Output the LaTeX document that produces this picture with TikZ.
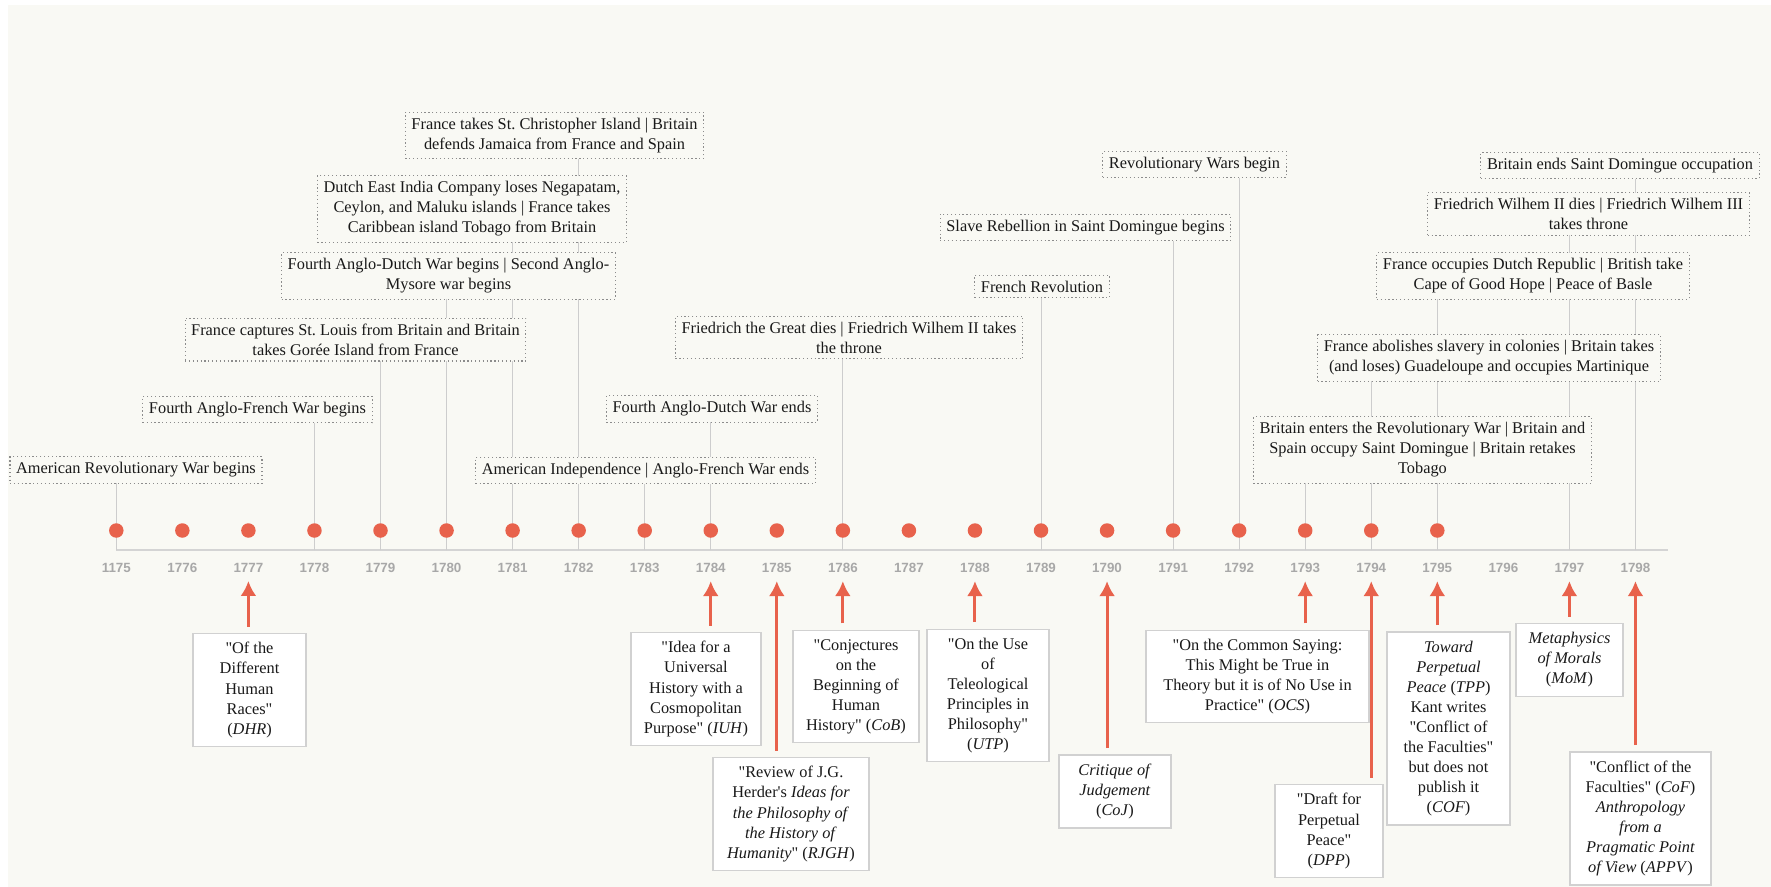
\documentclass[tikz,border=0pt]{standalone}
\usepackage{fontspec}
\setmainfont{Liberation Serif}[Ligatures=TeXOff]
\setsansfont{Liberation Sans}
\usetikzlibrary{arrows.meta}
\definecolor{paper}{RGB}{249,249,244}
\definecolor{coral}{RGB}{232,98,76}
\definecolor{stemgray}{RGB}{205,205,205}
\definecolor{labgray}{RGB}{168,168,168}
\pgfdeclarelayer{paperlayer}
\pgfdeclarelayer{behind}
\pgfsetlayers{paperlayer,behind,main}
\tikzset{%
    event/.style={inner xsep=3.5pt,inner ysep=3.2pt,outer sep=0pt,shape=rectangle,draw=black!45,dash pattern=on 0.7pt off 1.5pt,line width=0.6pt,fill=paper,align=center,font=\fontsize{9.3}{11.4}\selectfont,text=black!90},
    work/.style={inner xsep=3pt,inner ysep=5pt,outer sep=0pt,shape=rectangle,draw=black!18,line width=0.8pt,fill=white,align=center,font=\fontsize{9.3}{11.4}\selectfont,text=black!90},
    stem/.style={draw=stemgray,line width=0.5pt},
    dot/.style={circle,fill=coral,inner sep=0pt,minimum size=2.9mm},
    yearlab/.style={inner sep=0pt,font=\sffamily\bfseries\fontsize{7.6}{8}\selectfont,text=labgray},
    kant/.style={-{Latex[length=3mm,width=3.2mm]},draw=coral,line width=1.7pt,shorten <=1.4mm,shorten >=1.6mm},
}

\begin{document}
\begin{tikzpicture}[x=0.2mm,y=-0.2mm]
        \useasboundingbox (0,0) rectangle (1771,887);
        \begin{pgfonlayer}{paperlayer}
            \fill[paper] (8,5) rectangle (1771,887);
        \end{pgfonlayer}

        % axis, years and dots
        \foreach \yr in {1775,...,1798}{
            \pgfmathsetmacro\xx{116.3+(\yr-1775)*66.05}
            \coordinate (a\yr) at (\xx,550);
            \node[yearlab] (y\yr) at (\xx,568) {\ifnum\yr=1775 1175\else\yr\fi};
        }
        \coordinate (axisend) at (1668,550);
        \foreach \yr in {1775,...,1795}
            \node[dot] (d\yr) at ([yshift=3.9mm]a\yr) {};

        % events
        \node[event] (amrev) at (136,470) {American Revolutionary War begins};
        \node[event] (angfrench) at (257.5,409.5) {Fourth Anglo-French War begins};
        \node[event] (stlouis) at (355.5,339.5) {France captures St.\ Louis from Britain and Britain\\takes Gorée Island from France};
        \node[event] (mysore) at (448.5,276) {Fourth Anglo-Dutch War begins | Second Anglo-\\Mysore war begins};
        \node[event] (negapatam) at (472,209) {Dutch East India Company loses Negapatam,\\Ceylon, and Maluku islands | France takes\\Caribbean island Tobago from Britain};
        \node[event] (stkitts) at (554.5,135.5) {France takes St.\ Christopher Island | Britain\\defends Jamaica from France and Spain};
        \node[event] (independence) at (645.5,470.5) {American Independence | Anglo-French War ends};
        \node[event] (dutchend) at (712,409) {Fourth Anglo-Dutch War ends};
        \node[event] (fritz) at (849,337.5) {Friedrich the Great dies | Friedrich Wilhem II takes\\the throne};
        \node[event] (frenchrev) at (1042,286.5) {French Revolution};
        \node[event] (slaverebel) at (1085.5,227.5) {Slave Rebellion in Saint Domingue begins};
        \node[event] (revwars) at (1194.5,164.5) {Revolutionary Wars begin};
        \node[event] (britwar) at (1422.5,450) {Britain enters the Revolutionary War | Britain and\\Spain occupy Saint Domingue | Britain retakes\\Tobago};
        \node[event] (abolish) at (1489,358) {France abolishes slavery in colonies | Britain takes\\(and loses) Guadeloupe and occupies Martinique};
        \node[event] (basle) at (1533,276) {France occupies Dutch Republic | British take\\Cape of Good Hope | Peace of Basle};
        \node[event] (fwthree) at (1588.5,214) {Friedrich Wilhem II dies | Friedrich Wilhem III\\takes throne};
        \node[event] (domingue) at (1620,165.5) {Britain ends Saint Domingue occupation};

        \begin{pgfonlayer}{behind}
            \draw[line width=1pt,draw=black!17] (a1775) -- (axisend);
            \foreach \yr/\ev in {1775/amrev,1778/angfrench,1779/stlouis,1780/mysore,1781/negapatam,1782/stkitts,1783/independence,1784/dutchend,1786/fritz,1789/frenchrev,1791/slaverebel,1792/revwars,1793/britwar,1794/abolish,1795/basle,1797/fwthree,1798/domingue}
                \draw[stem] (a\yr) -- (a\yr |- \ev.south);
        \end{pgfonlayer}

        % Kant's writings
        \node[work,minimum width=22.6mm] (DHR) at (249.5,690) {"Of the\\Different\\Human\\Races"\\(\textit{DHR})};
        \node[work,minimum width=26mm] (IUH) at (696,689) {"Idea for a\\Universal\\History with a\\Cosmopolitan\\Purpose" (\textit{IUH})};
        \node[work,minimum width=31.2mm] (RJGH) at (791,814) {"Review of J.G.\\Herder's \textit{Ideas for}\\\textit{the Philosophy of}\\\textit{the History of}\\\textit{Humanity}" (\textit{RJGH})};
        \node[work,minimum width=25.2mm] (CoB) at (856,686.5) {"Conjectures\\on the\\Beginning of\\Human\\History" (\textit{CoB})};
        \node[work,minimum width=24.4mm] (UTP) at (988,695.5) {"On the Use\\of\\Teleological\\Principles in\\Philosophy"\\(\textit{UTP})};
        \node[work,minimum width=22.4mm] (CoJ) at (1115,791.5) {\textit{Critique of}\\\textit{Judgement}\\(\textit{CoJ})};
        \node[work,minimum width=44.6mm] (OCS) at (1257.5,676.5) {"On the Common Saying:\\This Might be True in\\Theory but it is of No Use in\\Practice" (\textit{OCS})};
        \node[work,minimum width=21.6mm] (DPP) at (1329,831) {"Draft for\\Perpetual\\Peace"\\(\textit{DPP})};
        \node[work,minimum width=24.6mm] (TPP) at (1448.5,728.5) {\textit{Toward}\\\textit{Perpetual}\\\textit{Peace} (\textit{TPP})\\Kant writes\\"Conflict of\\the Faculties"\\but does not\\publish it\\(\textit{COF})};
        \node[work,minimum width=21.4mm] (MoM) at (1569.5,660) {\textit{Metaphysics}\\\textit{of Morals}\\(\textit{MoM})};
        \node[work,minimum width=28.2mm] (CoF) at (1640.5,818.5) {"Conflict of the\\Faculties" (\textit{CoF})\\\textit{Anthropology}\\\textit{from a}\\\textit{Pragmatic Point}\\\textit{of View} (\textit{APPV})};

        \foreach \yr/\wk in {1777/DHR,1784/IUH,1785/RJGH,1786/CoB,1788/UTP,1790/CoJ,1793/OCS,1794/DPP,1795/TPP,1797/MoM,1798/CoF}
            \draw[kant] (\wk.north -| y\yr) -- (y\yr.south);
\end{tikzpicture}
\end{document}
